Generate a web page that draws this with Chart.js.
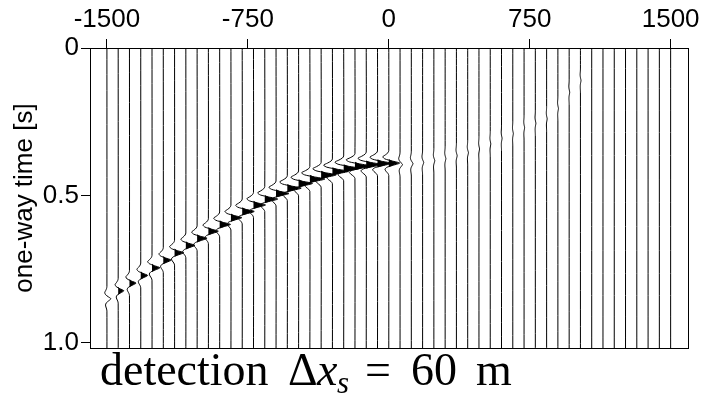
<!DOCTYPE html>
<html>
<head>
<meta charset="utf-8">
<script src="https://cdn.jsdelivr.net/npm/chart.js@4.4.0/dist/chart.umd.min.js"></script>
<style>
  html, body { margin: 0; padding: 0; background: #fff; }
  canvas { display: block; }
</style>
</head>
<body>
<canvas id="gather" width="704" height="403"></canvas>
<script>
// receiver offsets [m], one trace each
const offsets = [
  -1500, -1440, -1380, -1320, -1260, -1200, -1140, -1080, -1020, -960,
  -900, -840, -780, -720, -660, -600, -540, -480, -420, -360,
  -300, -240, -180, -120, -60, 0, 60, 120, 180, 240,
  300, 360, 420, 480, 540, 600, 660, 720, 780, 840,
  900, 960, 1020, 1080, 1140, 1200, 1260, 1320, 1380, 1440, 1500
];
// arrival time of the event on each trace [s] (null = nothing visible)
const arrivals = [
  0.850, 0.823, 0.797, 0.771, 0.745, 0.719, 0.694, 0.669, 0.645, 0.621,
  0.598, 0.575, 0.554, 0.532, 0.512, 0.493, 0.475, 0.459, 0.444, 0.430,
  0.418, 0.408, 0.400, 0.395, 0.391, 0.390, 0.395, 0.392, 0.388, 0.382,
  0.375, 0.365, 0.355, 0.342, 0.325, 0.306, 0.290, 0.270, 0.255, 0.240,
  0.205, 0.150, 0.110, null, null, null, null, null, null, null, null
];
// peak deflection of each trace, in offset units [m]
const amps = [
  21, 30, 35, 37, 42, 42, 48, 48, 53, 53,
  58, 58, 64, 64, 69, 69, 74, 74, 80, 80,
  85, 85, 85, 80, 74, 58, 13, 9, 6, 5,
  4, 4, 4, 3, 3, 3, 3, 3, 3, 3,
  3, 3, 3, 0, 0, 0, 0, 0, 0, 0, 0
];
// wavelet samples (normalised), sample interval and index of the peak
const wavelet = [0, -0.08, -0.3, -0.55, -0.35, 0.3, 1.0, 0.45, -0.15, -0.35, -0.25, -0.08, 0];
const waveletDt = 0.007;
const peakIndex = 6;

const xTicks = [-1500, -750, 0, 750, 1500];
const yTicks = [0, 0.5, 1.0];

const tickFont = { family: "'Liberation Sans', Arial, sans-serif", size: 26 };

function tracePoints(i, positiveOnly) {
  const off = offsets[i];
  const pts = [];
  if (!positiveOnly) pts.push({ x: off, y: -0.05 });
  if (arrivals[i] !== null && amps[i] > 0) {
    wavelet.forEach((w, k) => {
      const v = positiveOnly ? Math.max(w, 0) : w;
      pts.push({ x: off + amps[i] * v, y: arrivals[i] + (k - peakIndex) * waveletDt });
    });
  }
  if (!positiveOnly) pts.push({ x: off, y: 1.1 });
  return pts;
}

const datasets = [];
// filled positive lobes (variable area)
offsets.forEach((off, i) => {
  if (arrivals[i] === null || amps[i] < 25) return;
  datasets.push({
    data: tracePoints(i, true),
    borderWidth: 0,
    backgroundColor: '#000',
    fill: { value: off },
    pointRadius: 0,
    tension: 0
  });
});
// wiggle lines
offsets.forEach((off, i) => {
  datasets.push({
    data: tracePoints(i, false),
    borderColor: '#000',
    borderWidth: 1,
    fill: false,
    pointRadius: 0,
    tension: 0.25
  });
});

// box around the plot
const frame = {
  id: 'frame',
  afterDatasetsDraw(chart) {
    const { ctx, chartArea: a } = chart;
    ctx.save();
    ctx.strokeStyle = '#000';
    ctx.lineWidth = 1;
    ctx.strokeRect(Math.round(a.left) + 0.5, Math.round(a.top) + 0.5,
      Math.round(a.right - a.left), Math.round(a.bottom - a.top));
    ctx.restore();
  }
};

// caption under the plot: detection Δx_s = 60 m
const caption = {
  id: 'caption',
  afterDraw(chart) {
    const ctx = chart.ctx;
    const base = 385;
    const serif = "'Liberation Serif', 'DejaVu Serif', serif";
    ctx.save();
    ctx.fillStyle = '#000';
    ctx.textAlign = 'left';
    ctx.textBaseline = 'alphabetic';
    ctx.font = '46px ' + serif;
    ctx.fillText('detection', 100, base);
    ctx.fillText('\u0394', 288, base);
    ctx.fillText('=', 365, base);
    ctx.fillText('60', 411, base);
    ctx.fillText('m', 476, base);
    ctx.font = 'italic 46px ' + serif;
    ctx.fillText('x', 317, base);
    ctx.font = 'italic 31px ' + serif;
    ctx.fillText('s', 337, base + 8);
    ctx.restore();
  }
};

new Chart(document.getElementById('gather'), {
  type: 'line',
  data: { datasets },
  options: {
    responsive: false,
    animation: false,
    devicePixelRatio: 1,
    indexAxis: 'y',
    layout: { padding: { left: 0, right: 16, top: 0, bottom: 55 } },
    plugins: { legend: { display: false }, tooltip: { enabled: false } },
    scales: {
      x: {
        type: 'linear',
        position: 'top',
        min: -1590,
        max: 1590,
        afterBuildTicks: scale => { scale.ticks = xTicks.map(v => ({ value: v })); },
        afterFit: scale => { scale.height = 48; },
        ticks: {
          font: tickFont,
          color: '#000',
          padding: 4,
          maxRotation: 0,
          autoSkip: false,
          callback: v => String(v)
        },
        grid: { drawOnChartArea: false, tickLength: 9, tickColor: '#000', lineWidth: 1 },
        border: { display: true, color: '#000', width: 1 }
      },
      y: {
        type: 'linear',
        reverse: true,
        min: 0,
        max: 1.017,
        afterBuildTicks: scale => { scale.ticks = yTicks.map(v => ({ value: v })); },
        afterFit: scale => { scale.width = 90; },
        ticks: {
          font: tickFont,
          color: '#000',
          padding: 2,
          autoSkip: false,
          callback: v => (v === 0 ? '0' : v.toFixed(1))
        },
        title: {
          display: true,
          text: 'one-way time [s]',
          font: tickFont,
          color: '#000',
          padding: { top: 9, bottom: 0 }
        },
        grid: { drawOnChartArea: false, tickLength: 9, tickColor: '#000', lineWidth: 1 },
        border: { display: true, color: '#000', width: 1 }
      }
    }
  },
  plugins: [frame, caption]
});
</script>
</body>
</html>
